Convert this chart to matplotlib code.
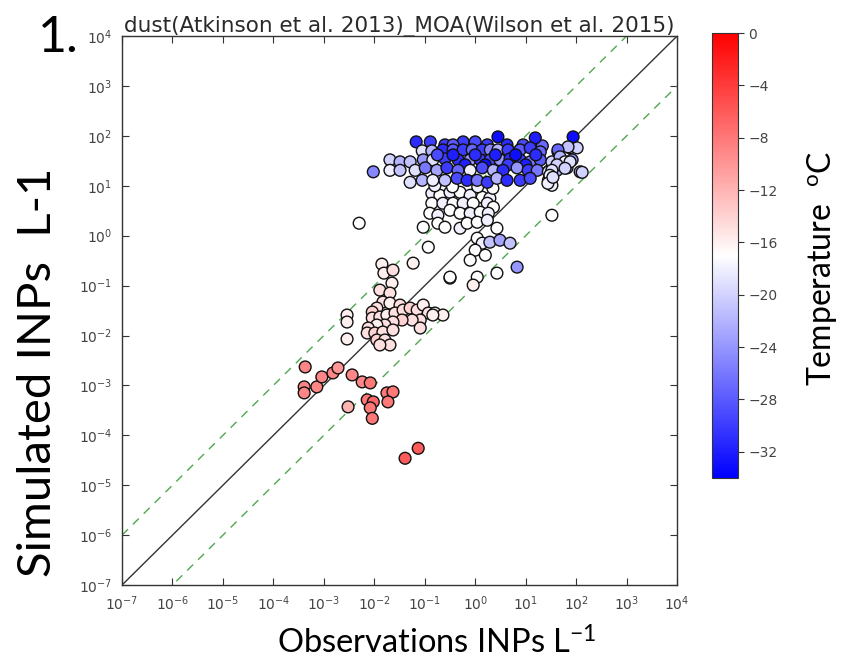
import numpy as np
import matplotlib
matplotlib.use("Agg")
import matplotlib.pyplot as plt
from matplotlib.ticker import LogLocator, NullLocator

# ---- data: log10 observed INP, log10 simulated INP, temperature (degC) ----
# cold (blue) cluster
blue_obs = [-1.17, -0.89, -0.24, 0.00, -0.60, -0.44, 0.24, 0.63, 0.95, 1.33,
            0.45, 1.19, 1.94,
            -1.05, -0.86, -0.64, -0.44, -0.24, -0.06, 0.14, 0.30, 0.45, 0.65,
            0.89, 1.09, 1.29, 1.64, 1.88, 2.02,
            -1.69, -1.49, -1.29, -1.03, -0.84, -0.60, -0.34, -0.10, 0.10, 0.30,
            0.49, 0.69, 0.89, 1.09, 1.29, 1.52, 1.72, 1.92,
            -0.75, -0.44, 0.00, 0.40, 0.80, 1.20, -0.20, 0.20, 0.65, 1.00,
            -2.02, -1.69, -1.49, -1.19, -0.99, -0.76, -0.56, -0.34, -0.10, 0.14,
            0.36, 0.55, 0.83, 1.05, 1.23, 1.45, 1.62, 1.82, 2.08,
            -1.29, -1.05, -0.84, -0.60, -0.36, -0.16, 0.04, 0.24, 0.43, 0.63,
            0.89, 1.09, 1.45, 1.52,
            1.84, 1.64, 1.68, 1.78, 1.88, 1.62, 1.52, 1.48, 1.44, 1.54, 1.78, 2.12]
blue_sim = [1.88, 1.88, 1.88, 1.88, 1.82, 1.82, 1.82, 1.82, 1.82, 1.80,
            1.98, 1.96, 1.98,
            1.70, 1.70, 1.72, 1.72, 1.72, 1.72, 1.72, 1.72, 1.72, 1.72,
            1.72, 1.76, 1.68, 1.68, 1.76, 1.76,
            1.52, 1.48, 1.48, 1.52, 1.52, 1.54, 1.52, 1.52, 1.52, 1.52,
            1.52, 1.54, 1.52, 1.48, 1.52, 1.48, 1.48, 1.52,
            1.62, 1.62, 1.62, 1.62, 1.62, 1.62, 1.42, 1.42, 1.42, 1.42,
            1.28, 1.31, 1.31, 1.31, 1.36, 1.31, 1.36, 1.31, 1.31, 1.36,
            1.31, 1.31, 1.36, 1.31, 1.31, 1.28, 1.31, 1.36, 1.28,
            1.07, 1.11, 1.11, 1.11, 1.15, 1.11, 1.11, 1.07, 1.15, 1.11,
            1.11, 1.15, 1.11, 1.01,
            1.78, 1.72, 1.58, 1.48, 1.48, 1.42, 1.31, 1.21, 1.05, 1.17, 1.35, 1.27]
blue_temp = [-31, -30, -30, -29, -30, -28, -30, -31, -29, -27,
             -33, -32, -33,
             -19, -22, -31, -28, -30, -27, -30, -25, -22, -30,
             -28, -30, -27, -29, -21, -20,
             -20, -22, -21, -24, -19, -30, -31, -24, -30, -29,
             -24, -31, -30, -26, -28, -20, -22, -24,
             -29, -32, -31, -32, -33, -31, -32, -33, -30, -32,
             -25, -18, -21, -19, -26, -23, -30, -27, -18, -29,
             -22, -31, -24, -30, -26, -19, -22, -24, -21,
             -19, -22, -18, -21, -29, -31, -26, -30, -22, -31,
             -30, -29, -18, -18,
             -21, -27, -22, -18, -19, -20, -19, -18, -18, -19, -20, -20]

# mid-temperature (white) cluster
white_obs = [-0.86, -0.70, -0.50, -0.30, -0.10, 0.14, 0.29,
             -0.86, -0.64, -0.44, -0.24, -0.04, 0.24, 0.36,
             -0.90, -0.74, -0.50, -0.30, -0.10, 0.10, 0.26,
             -0.74, -0.60, -0.30, -0.16, 0.04, 0.24, 0.43,
             -1.03, -0.93, 0.04, 0.14, 0.00, -0.10, 0.20,
             0.29, 0.49, 0.69, 0.83, 0.43, -0.50, 0.04, -0.04,
             -2.30, 1.52, -1.23,
             -0.80, -0.45, 0.05, 0.35]
white_sim = [0.85, 0.81, 0.87, 0.87, 0.81, 0.77, 0.75,
             0.65, 0.65, 0.65, 0.65, 0.65, 0.65, 0.57,
             0.45, 0.41, 0.51, 0.45, 0.45, 0.47, 0.45,
             0.25, 0.17, 0.15, 0.25, 0.27, 0.31, 0.15,
             0.17, -0.23, -0.05, -0.15, -0.29, -0.49, -0.39,
             -0.13, -0.09, -0.15, -0.63, -0.75, -0.83, -0.83, -0.99,
             0.25, 0.41, -0.55,
             1.00, 0.98, 0.98, 0.95]
white_temp = [-18, -17, -18, -17, -18, -17, -18,
              -17, -18, -17, -18, -17, -18, -17,
              -17, -18, -17, -17, -18, -17, -18,
              -17, -17, -18, -17, -17, -18, -17,
              -17, -17, -17, -18, -17, -17, -17,
              -21, -23, -21, -24, -17, -17, -17, -16,
              -17, -17, -16,
              -18, -17, -18, -17]

# warmer (pale pink) cluster
pink_obs = [-1.85, -1.81, -1.63, -1.65, -1.89, -1.69, -1.83, -1.69, -1.49, -1.95,
            -2.04, -2.04, -1.89, -1.75, -1.59, -1.43, -1.29, -1.15, -1.03, -0.93,
            -0.80, -1.09, -1.25, -1.45, -1.63, -1.79, -1.95, -2.12, -2.14, -1.99,
            -1.83, -1.63, -1.95, -1.79, -1.69, -1.89, -2.54, -2.54, -2.54, -1.09,
            -0.50, -0.64, -0.84]
pink_sim = [-0.57, -0.75, -0.69, -0.95, -1.09, -1.15, -1.33, -1.35, -1.39, -1.45,
            -1.53, -1.65, -1.63, -1.59, -1.55, -1.49, -1.45, -1.49, -1.39, -1.55,
            -1.55, -1.69, -1.69, -1.69, -1.73, -1.79, -1.79, -1.85, -1.95, -1.95,
            -1.93, -1.89, -2.09, -2.09, -2.19, -2.19, -1.59, -1.73, -2.07, -1.85,
            -0.85, -1.59, -1.59]
pink_temp = [-16, -16, -15, -16, -15, -15, -15, -16, -15, -15,
             -14, -15, -15, -16, -15, -15, -14, -15, -16, -15,
             -16, -15, -15, -14, -15, -15, -16, -15, -15, -14,
             -15, -15, -14, -15, -15, -15, -16, -16, -16, -15,
             -16, -16, -16]

# warm (red) cluster
red_obs = [-3.37, -3.39, -3.39, -3.14, -3.04, -2.82, -2.72, -2.44, -2.24, -2.08,
           -2.14, -2.02, -2.08, -2.04, -1.75, -1.63, -1.73, -2.52, -1.13, -1.39]
red_sim = [-2.63, -3.03, -3.15, -3.03, -2.83, -2.75, -2.65, -2.79, -2.93, -2.95,
           -3.29, -3.33, -3.45, -3.66, -3.15, -3.13, -3.33, -3.43, -4.26, -4.46]
red_temp = [-9, -9, -9, -9, -9, -9, -10, -9, -9, -8,
            -8, -7, -8, -8, -8, -8, -8, -12, -6, -6]

obs_log10 = np.array(red_obs + pink_obs + white_obs + blue_obs)
sim_log10 = np.array(red_sim + pink_sim + white_sim + blue_sim)
temp_c = np.array(red_temp + pink_temp + white_temp + blue_temp)

axis_lim = (1e-7, 1e4)
cbar_ticks = [0, -4, -8, -12, -16, -20, -24, -28, -32]

tick_grey = '#444444'
label_font = 'Lato'

fig = plt.figure(figsize=(8.48, 6.67), dpi=100)
ax = fig.add_axes([0.1439, 0.1229, 0.6545, 0.823])

sc = ax.scatter(10 ** obs_log10, 10 ** sim_log10, c=temp_c, cmap='bwr',
                vmin=-34, vmax=0, s=72, edgecolors='#111111',
                linewidths=1.0, zorder=3)

ref = np.array(axis_lim)
ax.plot(ref, ref, color='#333333', lw=1.0, zorder=2)
ax.plot(ref, ref * 10, ls=(0, (6, 5)), color='#4fa84f', lw=1.0, zorder=2)
ax.plot(ref, ref / 10, ls=(0, (6, 5)), color='#4fa84f', lw=1.0, zorder=2)

ax.set_xscale('log')
ax.set_yscale('log')
ax.set_xlim(*axis_lim)
ax.set_ylim(*axis_lim)
for axis in (ax.xaxis, ax.yaxis):
    axis.set_major_locator(LogLocator(base=10, numticks=20))
    axis.set_minor_locator(NullLocator())
ax.tick_params(direction='in', top=True, right=True, length=5, width=0.8,
               labelsize=10, labelcolor=tick_grey, color='#333333', pad=7)
for sp in ax.spines.values():
    sp.set_color('#333333')
    sp.set_linewidth(1.0)

ax.set_title('dust(Atkinson et al. 2013)_MOA(Wilson et al. 2015)',
             fontsize=15.5, color='#2a2a2a', pad=3)

cax = fig.add_axes([0.8396, 0.2834, 0.0307, 0.667])
cb = fig.colorbar(sc, cax=cax, ticks=cbar_ticks)
cb.ax.tick_params(labelsize=10, labelcolor=tick_grey, length=4, color='#333333')
cb.outline.set_edgecolor('#333333')

fig.text(0.045, 0.943, '1.', fontsize=36, family=label_font, va='center',
         ha='left', color='black')
fig.text(0.045, 0.442, 'Simulated INPs  L-1', rotation=90, fontsize=34,
         family=label_font, ha='center', va='center')
fig.text(0.515, 0.036, r'Observations INPs L$\mathdefault{^{-1}}$',
         fontsize=23.5, family=label_font, ha='center', va='center')
fig.text(0.969, 0.598, r'Temperature  $\mathdefault{^{o}}$C', rotation=90,
         fontsize=23, family=label_font, ha='center', va='center')

fig.savefig('out.png', dpi=100)
